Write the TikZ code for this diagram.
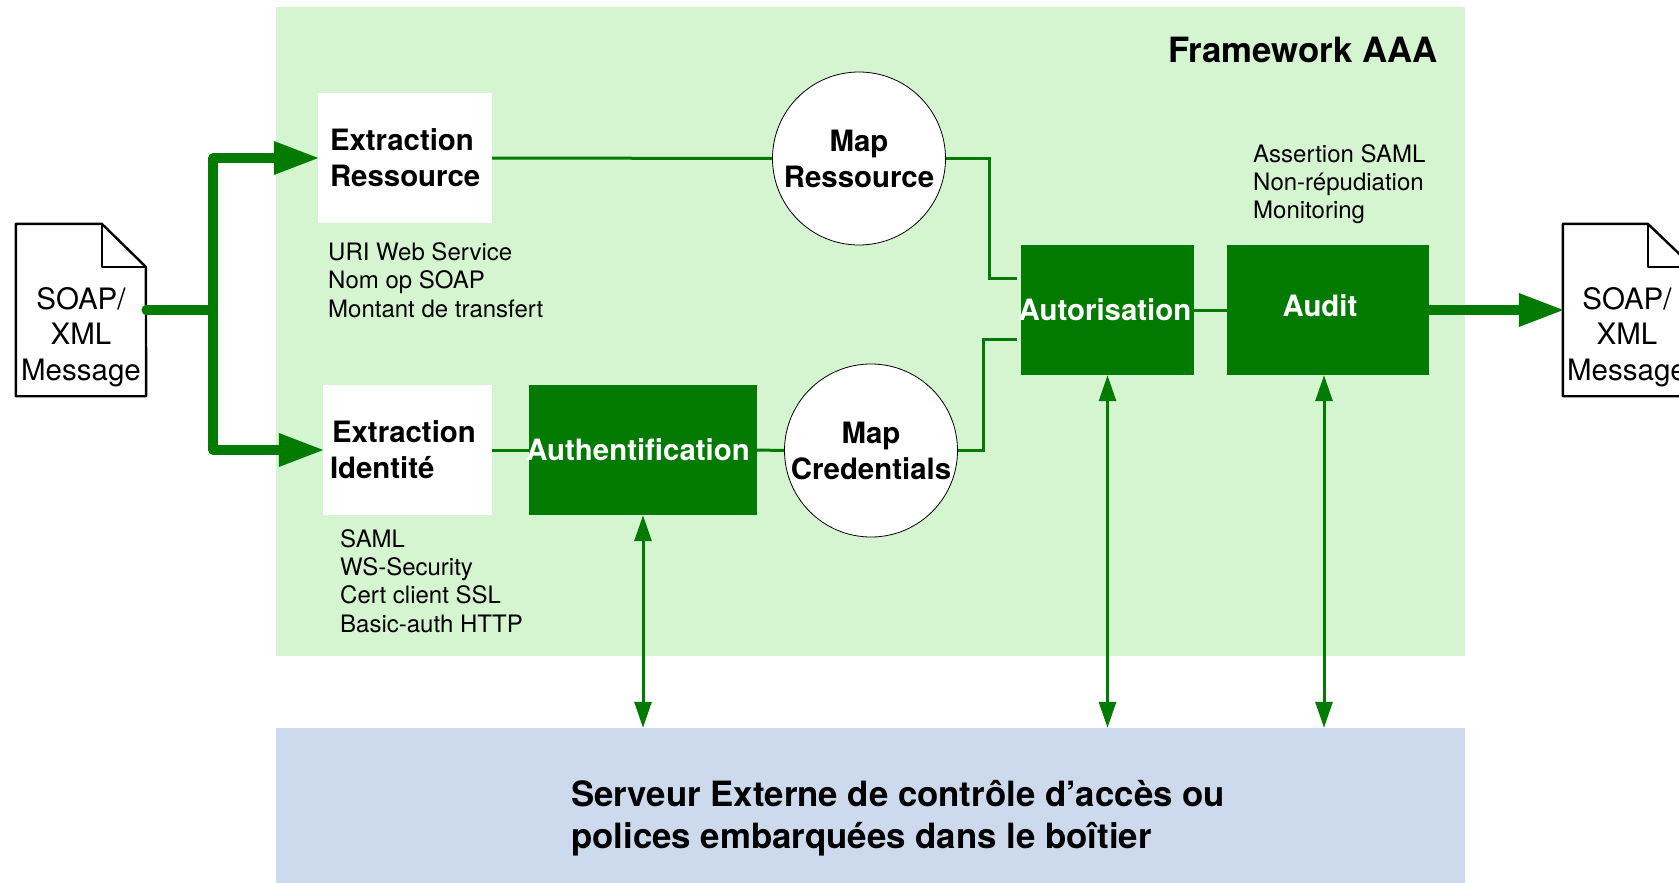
\documentclass[tikz,border=0pt]{standalone}
\usepackage{fontspec}
\setmainfont{TeX Gyre Heros}
\usepackage{xcolor}
\usetikzlibrary{positioning,arrows.meta,calc}
\definecolor{aaagreen}{RGB}{3,123,3}
\definecolor{framegreen}{RGB}{213,245,208}
\definecolor{serverblue}{RGB}{205,218,238}

\begin{document}
\begin{tikzpicture}[x=1pt,y=-1pt,
        area/.style={fill=#1, inner sep=0pt},
        extract/.style={fill=white, minimum height=130pt, align=left, inner ysep=0pt,
                        font=\fontsize{29.4}{36}\selectfont\bfseries},
        proc/.style={fill=aaagreen, text=white, minimum height=130pt, inner xsep=0pt, inner ysep=0pt,
                     font=\fontsize{29.4}{36}\selectfont\bfseries},
        mapper/.style={circle, draw=black, line width=0.8pt, fill=white, minimum size=173pt,
                       inner sep=0pt, align=center, font=\fontsize{29.4}{36}\selectfont\bfseries},
        note/.style={anchor=west, align=left, inner sep=0pt, font=\fontsize{24}{28.4}\selectfont},
        docbox/.style={minimum width=130pt, minimum height=172pt, inner sep=0pt},
        doctext/.style={align=center, inner sep=0pt, font=\fontsize{29.5}{35.5}\selectfont},
        docline/.style={draw=black, line width=2.4pt, line join=round},
        link/.style={draw=aaagreen, line width=3pt},
        duplex/.style={draw=aaagreen, line width=3pt, {Triangle[length=26pt,width=17pt]}-{Triangle[length=26pt,width=17pt]}},
        bus/.style={draw=aaagreen, line width=9.5pt, line cap=round, line join=round},
        busarrow/.style={draw=aaagreen, line width=9.5pt, line join=round, shorten >=-2pt, -{Triangle[length=46pt,width=31pt]}}
    ]
        \useasboundingbox (0,0) rectangle (1679,883);

        % zones
        \node[area=framegreen, minimum width=1189pt, minimum height=649pt] (frame) at (870.5,331.5) {};
        \node[area=serverblue, minimum width=1189pt, minimum height=155pt] (server) at (870.5,805.5) {};
        \node[anchor=east, inner sep=0pt, font=\fontsize{34.8}{40}\selectfont\bfseries] (frametitle) at (1438,50) {Framework AAA};
        \node[anchor=west, align=left, inner sep=0pt, font=\fontsize{34.8}{41.5}\selectfont\bfseries] (servertext) at (571,818)
            {Serveur Externe de contrôle d’accès ou\\polices embarquées dans le boîtier};

        % blocs
        \node[extract, minimum width=174pt, text width=150pt, inner xsep=12pt] (resext) at (405,158) {Extraction\\Ressource};
        \node[extract, minimum width=169pt, text width=155pt, inner xsep=7pt] (idext) at (407.5,450) {\hspace*{2pt}Extraction\\Identité};
        \node[proc, minimum width=228pt] (auth) at (643,450) {\hspace*{-10pt}Authentification};
        \node[mapper] (mapres) at (859,158.5) {Map\\Ressource};
        \node[mapper] (mapcred) at (871,450.5) {Map\\Credentials};
        \node[proc, minimum width=173pt] (autor) at (1107.5,310) {\hspace*{-5pt}Autorisation};
        \node[proc, minimum width=202pt] (audit) at (1328,310) {\hspace*{-16pt}\raisebox{8pt}{Audit}};

        % notes
        \node[note] (resnote) at (328,280) {URI Web Service\\Nom op SOAP\\Montant de transfert};
        \node[note] (idnote) at (340,581) {SAML\\WS-Security\\Cert client SSL\\Basic-auth HTTP};
        \node[note, font=\fontsize{24}{27.8}\selectfont] (auditnote) at (1253,184) {Assertion SAML\\Non-répudiation\\Monitoring};

        % documents
        \node[docbox] (msgin) at (81,310) {};
        \node[docbox] (msgout) at (1628,310) {};
        \draw[docline] (msgin.north west) -- ++(86,0) -- ++(44,43) -- (msgin.south east) -- (msgin.south west) -- cycle;
        \draw[docline] (102,224) |- (146,267);
        \draw[docline] (msgout.north west) -- ++(85,0) -- ++(45,43) -- (msgout.south east) -- (msgout.south west) -- cycle;
        \draw[docline] (1648,224) |- (1693,267);
        \node[doctext] (msgintext) at (81,337) {SOAP/\\XML\\Message};
        \node[doctext] (msgouttext) at (1627,337) {SOAP/\\XML\\Message};

        % flux principal
        \coordinate (fork) at (213,310);
        \draw[bus] (msgin.east) -- (fork);
        \draw[busarrow] (fork) |- (resext.west);
        \draw[busarrow] (fork) |- (idext.west);
        \draw[busarrow] (audit.east) -- (msgout.west);

        % liens
        \coordinate (inres) at (1017,278);
        \coordinate (incred) at (1017,339);
        \draw[link] (resext.east) -- (mapres.west);
        \draw[link] (idext.east) -- (auth.west);
        \draw[link] (auth.east) -- (mapcred.west);
        \draw[link] (mapres.east) -| (989,278) -- (inres);
        \draw[link] (mapcred.east) -| (983,339) -- (incred);
        \draw[link] (autor.east) -- (audit.west);

        % vers le serveur
        \draw[duplex] (auth.south) -- (auth.south |- server.north);
        \draw[duplex] (autor.south) -- (autor.south |- server.north);
        \draw[duplex] ([xshift=-4pt]audit.south) -- ([xshift=-4pt]audit.south |- server.north);
\end{tikzpicture}
\end{document}
